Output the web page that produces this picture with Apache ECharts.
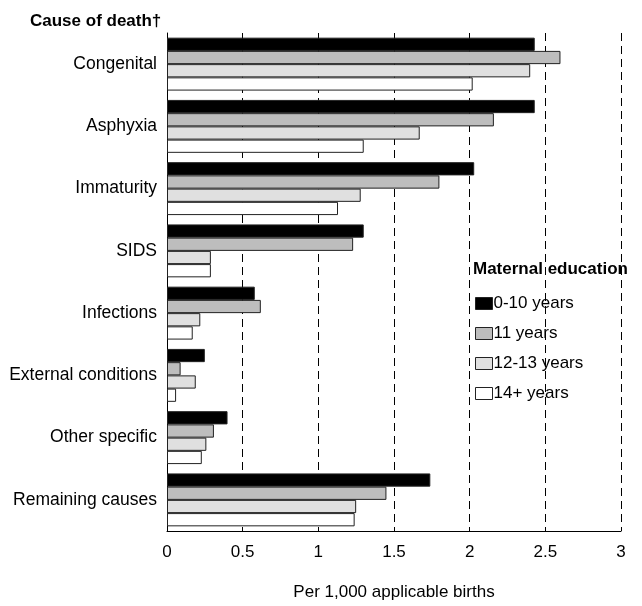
<!DOCTYPE html>
<html>
<head>
<meta charset="utf-8">
<script src="https://cdn.jsdelivr.net/npm/echarts@6/dist/echarts.min.js"></script>
<style>html,body{margin:0;padding:0;background:#fff}#c{width:642px;height:606px}</style>
</head>
<body>
<div id="c"></div>
<script>
var categories = ['Congenital','Asphyxia','Immaturity','SIDS','Infections','External conditions','Other specific','Remaining causes'];
var seriesNames = ['0-10 years','11 years','12-13 years','14+ years'];
var edu0_10 = [2.43, 2.43, 2.03, 1.30, 0.58, 0.25, 0.40, 1.74];
var edu11   = [2.60, 2.16, 1.80, 1.23, 0.62, 0.09, 0.31, 1.45];
var edu12_13= [2.40, 1.67, 1.28, 0.29, 0.22, 0.19, 0.26, 1.25];
var edu14p  = [2.02, 1.30, 1.13, 0.29, 0.17, 0.06, 0.23, 1.24];
var xTicks = [0, 0.5, 1, 1.5, 2, 2.5, 3];

var font = 'Liberation Sans, Arial, sans-serif';
var colors = ['#000000','#bdbdbd','#e0e0e0','#ffffff'];
var dataSets = [edu0_10, edu11, edu12_13, edu14p];

var chart = echarts.init(document.getElementById('c'), null, {renderer:'canvas'});
chart.setOption({
  animation:false,
  backgroundColor:'#fff',
  title:[
    {text:'Cause of death\u2020', left:25, top:8, textStyle:{fontFamily:font, fontSize:17, fontWeight:'bold', color:'#000'}},
    {text:'Maternal education', left:468, top:256, textStyle:{fontFamily:font, fontSize:17, fontWeight:'bold', color:'#000'}}
  ],
  legend:{
    data:seriesNames, orient:'vertical', left:470, top:290,
    itemWidth:17, itemHeight:12, itemGap:13, icon:'rect',
    itemStyle:{borderWidth:1, borderColor:'#222'},
    textStyle:{fontFamily:font, fontSize:17, color:'#000', padding:[0,0,0,-4]}
  },
  grid:{left:167, right:21, top:33, bottom:73, containLabel:false},
  xAxis:{
    type:'value', min:0, max:3, interval:0.5,
    name:'Per 1,000 applicable births', nameLocation:'middle', nameGap:53,
    nameTextStyle:{fontFamily:font, fontSize:17, color:'#000'},
    axisLine:{show:true, lineStyle:{color:'#000', width:1}},
    axisTick:{show:false},
    axisLabel:{fontFamily:font, fontSize:17, color:'#000', margin:13,
      formatter:function(v){ return xTicks.indexOf(v) >= 0 ? String(v) : ''; }},
    splitLine:{show:true, lineStyle:{color:'#000', width:1, type:[8,5]}}
  },
  yAxis:{
    type:'category', data:categories, inverse:true,
    axisLine:{show:true, lineStyle:{color:'#000', width:1}},
    axisTick:{show:false},
    axisLabel:{fontFamily:font, fontSize:17.5, color:'#000', margin:10},
    splitLine:{show:false}
  },
  series: seriesNames.map(function(n,i){
    return {
      name:n, type:'bar', data:dataSets[i],
      barGap:'0%', barCategoryGap:'15%',
      itemStyle:{color:colors[i], borderColor:'#222', borderWidth:1}
    };
  })
});
</script>
</body>
</html>
